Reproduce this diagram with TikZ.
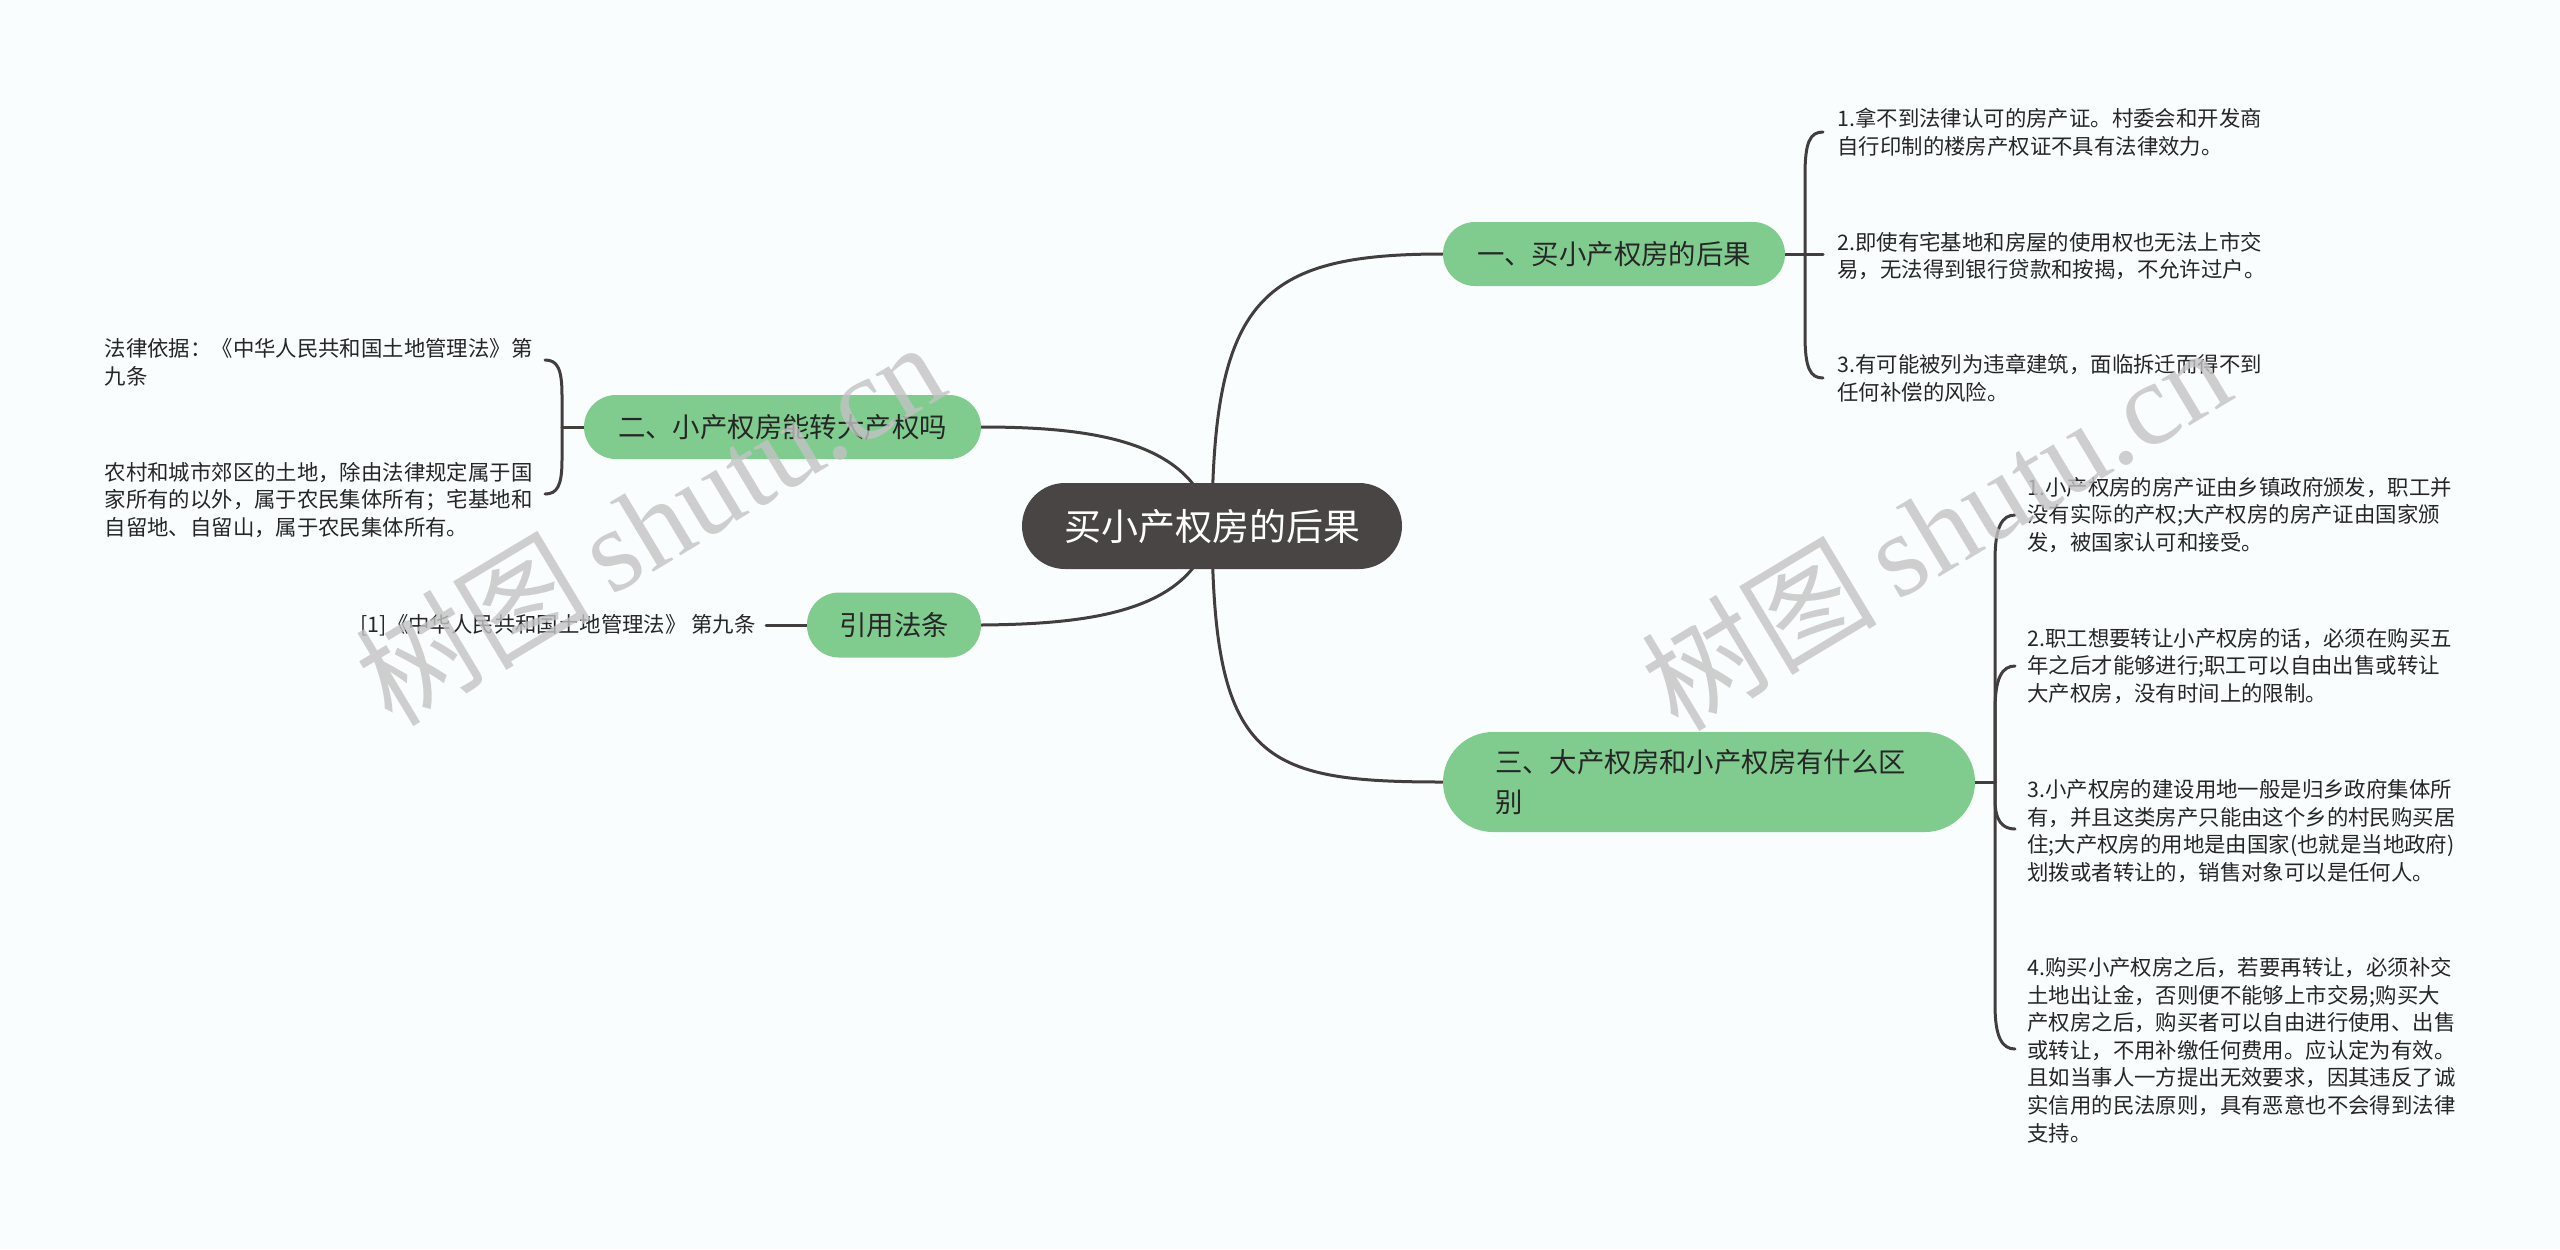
\documentclass[tikz,border=0pt]{standalone}
\usepackage{fontspec}
\setmainfont{Noto Sans CJK SC}
\newfontfamily\wmserif{Liberation Serif}
\usetikzlibrary{calc}
\pgfdeclarelayer{bg}
\pgfdeclarelayer{lines}
\pgfdeclarelayer{wm}
\pgfsetlayers{bg,lines,main,wm}
\definecolor{bgcol}{RGB}{250,253,254}
\definecolor{greencol}{RGB}{128,204,143}
\definecolor{maincol}{RGB}{74,69,69}
\definecolor{linecol}{RGB}{66,62,62}
\definecolor{textcol}{RGB}{38,38,38}
\definecolor{wmcol}{RGB}{195,195,195}
\tikzset{
  mainbox/.style={fill=maincol, text=white, rounded corners=21.5pt,
    minimum width=190pt, minimum height=43pt, inner sep=0pt,
    font=\fontsize{18.5pt}{22pt}\selectfont},
  branchbox/.style={fill=greencol, text=textcol, rounded corners=16pt,
    minimum height=32pt, inner sep=0pt,
    font=\fontsize{13.7pt}{20pt}\selectfont},
  leaf/.style={text=textcol, align=left, inner sep=0pt,
    font=\fontsize{10.7pt}{13.8pt}\selectfont},
  conn/.style={draw=linecol, line width=1.5pt, line cap=round},
  wmark/.style={text=wmcol, opacity=0.8, rotate=31, inner sep=0pt}
}
\begin{document}
\begin{tikzpicture}[x=0.5pt,y=-0.5pt]
\useasboundingbox (0,0) rectangle (2560,1249);
\begin{pgfonlayer}{bg}
\fill[bgcol] (0,0) rectangle (2560,1249);
\end{pgfonlayer}

% central node
\node[mainbox] (main) at (1212,526) {买小产权房的后果};

% branches
\node[branchbox, minimum width=171pt] (b1) at (1614,254) {一、买小产权房的后果};
\node[branchbox, minimum width=198.5pt] (b2) at (782.5,427) {二、小产权房能转大产权吗};
\node[branchbox, minimum width=87pt, minimum height=32.5pt] (cite) at (894,625) {引用法条};
\node[branchbox, minimum height=50pt, rounded corners=25pt, inner xsep=26pt,
      text width=214pt, align=left] (b3) at (1709,782)
      {三、大产权房和小产权房有什么区\\别};

% leaves of branch 1
\node[leaf, anchor=west] (b1a) at (1837,132) {1.拿不到法律认可的房产证。村委会和开发商\\自行印制的楼房产权证不具有法律效力。};
\node[leaf, anchor=west] (b1b) at (1837,256) {2.即使有宅基地和房屋的使用权也无法上市交\\易，无法得到银行贷款和按揭，不允许过户。};
\node[leaf, anchor=west] (b1c) at (1837,378) {3.有可能被列为违章建筑，面临拆迁而得不到\\任何补偿的风险。};

% leaves of branch 2
\node[leaf, anchor=east] (b2a) at (533,362) {法律依据：《中华人民共和国土地管理法》第\\九条};
\node[leaf, anchor=east] (b2b) at (533,500) {农村和城市郊区的土地，除由法律规定属于国\\家所有的以外，属于农民集体所有；宅基地和\\自留地、自留山，属于农民集体所有。};

% leaf of cite
\node[leaf, anchor=east] (cl) at (756,625) {[1]《中华人民共和国土地管理法》 第九条};

% leaves of branch 3
\node[leaf, anchor=west] (b3a) at (2027,515) {1.小产权房的房产证由乡镇政府颁发，职工并\\没有实际的产权;大产权房的房产证由国家颁\\发，被国家认可和接受。};
\node[leaf, anchor=west] (b3b) at (2027,666) {2.职工想要转让小产权房的话，必须在购买五\\年之后才能够进行;职工可以自由出售或转让\\大产权房，没有时间上的限制。};
\node[leaf, anchor=west] (b3c) at (2027,831) {3.小产权房的建设用地一般是归乡政府集体所\\有，并且这类房产只能由这个乡的村民购买居\\住;大产权房的用地是由国家(也就是当地政府)\\划拨或者转让的，销售对象可以是任何人。};
\node[leaf, anchor=west] (b3d) at (2027,1050) {4.购买小产权房之后，若要再转让，必须补交\\土地出让金，否则便不能够上市交易;购买大\\产权房之后，购买者可以自由进行使用、出售\\或转让，不用补缴任何费用。应认定为有效。\\且如当事人一方提出无效要求，因其违反了诚\\实信用的民法原则，具有恶意也不会得到法律\\支持。};

% junctions and connector ends
\coordinate (j1) at (1805,254);
\coordinate (e1a) at (1823,132);
\coordinate (e1b) at (1823,254);
\coordinate (e1c) at (1823,378);
\coordinate (j2) at (562,427);
\coordinate (e2a) at (545,360);
\coordinate (e2b) at (545,494);
\coordinate (j3) at (1995,782);
\coordinate (e3a) at (2015,515);
\coordinate (e3b) at (2015,666);
\coordinate (e3c) at (2015,829);
\coordinate (e3d) at (2015,1049);
\coordinate (ecl) at (766,625);

\begin{pgfonlayer}{lines}
% main connectors
\draw[conn] (main.center) .. controls (1213,300) and (1260,254) .. (b1.west);
\draw[conn] (main.center) .. controls (1213,760) and (1260,782) .. (b3.west);
\draw[conn] (main.center) .. controls (1195,440) and (1090,427) .. (b2.east);
\draw[conn] (main.center) .. controls (1195,612) and (1090,624) .. (cite.east);
% branch 1 bracket
\draw[conn] (b1.east) -- (e1b);
\draw[conn] (j1) -- (1805,175) .. controls (1805,142) and (1810,132) .. (e1a);
\draw[conn] (j1) -- (1805,335) .. controls (1805,368) and (1810,378) .. (e1c);
% branch 2 bracket
\draw[conn] (b2.west) -- (j2);
\draw[conn] (j2) -- (562,395) .. controls (562,368) and (557,360) .. (e2a);
\draw[conn] (j2) -- (562,460) .. controls (562,486) and (557,494) .. (e2b);
% cite
\draw[conn] (cite.west) -- (ecl);
% branch 3 bracket
\draw[conn] (b3.east) -- (j3);
\draw[conn] (j3) -- (1995,560) .. controls (1995,527) and (2002,515) .. (e3a);
\draw[conn] (j3) -- (1995,710) .. controls (1995,678) and (2002,666) .. (e3b);
\draw[conn] (j3) -- (1995,800) .. controls (1995,820) and (2002,829) .. (e3c);
\draw[conn] (j3) -- (1995,1005) .. controls (1995,1037) and (2002,1049) .. (e3d);
\end{pgfonlayer}

% watermarks
\begin{pgfonlayer}{wm}
\node[wmark] (wm1) at (649,522) {\fontsize{59pt}{66pt}\selectfont 树图\,{\wmserif shutu.cn}};
\node[wmark] (wm2) at (1935,527) {\fontsize{59pt}{66pt}\selectfont 树图\,{\wmserif shutu.cn}};
\end{pgfonlayer}
\end{tikzpicture}
\end{document}
